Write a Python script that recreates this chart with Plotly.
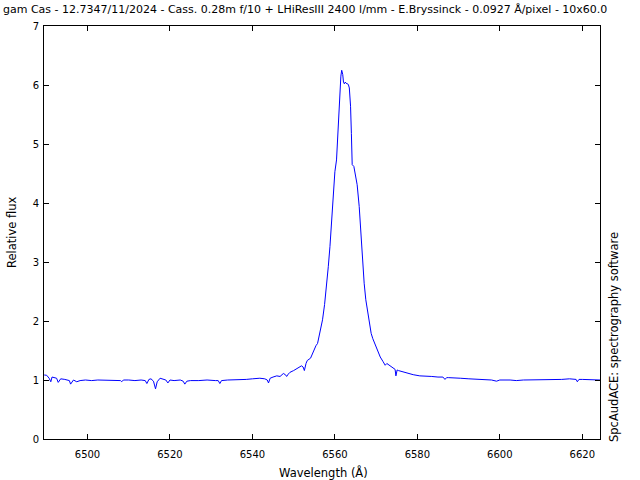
import plotly.graph_objects as go

wavelength = [
    6489.5, 6490.1, 6490.7, 6491.1, 6491.4, 6492.1, 6492.5, 6492.9, 6493.5, 6494.5,
    6495.2, 6495.6, 6495.9, 6496.6, 6497.4, 6498.2, 6499.5, 6501.0, 6502.5, 6504.0,
    6505.5, 6507.0, 6508.0, 6508.3, 6508.7, 6510.0, 6511.5, 6513.0, 6514.0, 6514.4,
    6514.9, 6515.4, 6516.0, 6516.5, 6516.9, 6517.6, 6518.3, 6519.0, 6519.5, 6520.0,
    6521.0, 6522.5, 6523.2, 6523.6, 6524.1, 6525.0, 6527.0, 6529.0, 6531.0, 6531.7,
    6532.1, 6532.5, 6534.0, 6535.5, 6537.0, 6538.5, 6540.0, 6541.8, 6543.0, 6543.6,
    6543.9, 6544.3, 6545.0, 6545.9, 6546.7, 6547.5, 6548.0, 6548.3, 6548.7, 6549.1,
    6550.0, 6551.0, 6551.9, 6552.3, 6552.6, 6553.0, 6553.3, 6554.1, 6554.7, 6555.0,
    6555.4, 6555.8, 6556.2, 6556.6, 6557.0, 6557.5, 6558.0, 6558.4, 6558.8, 6559.2,
    6559.6, 6560.0, 6560.4, 6560.8, 6561.2, 6561.45, 6561.65, 6561.9, 6562.1, 6562.3,
    6562.5, 6562.7, 6563.1, 6563.3, 6563.5, 6563.8, 6564.0, 6564.1, 6564.2, 6564.6,
    6564.9, 6565.4, 6565.9, 6566.5, 6567.1, 6567.5, 6568.0, 6568.4, 6568.8, 6569.2,
    6569.5, 6570.0, 6570.5, 6571.0, 6571.7, 6572.0, 6572.2, 6572.6, 6573.0, 6573.6,
    6574.2, 6574.6, 6574.8, 6575.1, 6575.4, 6576.4, 6577.4, 6579.0, 6580.6, 6582.0,
    6583.5, 6585.0, 6586.2, 6586.7, 6587.1, 6587.5, 6589.0, 6590.4, 6592.5, 6594.4,
    6596.5, 6598.0, 6599.2, 6600.0, 6602.5, 6604.0, 6605.7, 6608.0, 6610.6, 6613.0,
    6615.0, 6616.9, 6618.5, 6618.8, 6619.2, 6620.0, 6622.0, 6624.3,
]

flux = [
    1.085, 1.08, 1.03, 0.97, 1.05, 1.04, 1.03, 0.96, 1.02, 1.01,
    1.00, 0.99, 0.93, 1.00, 0.97, 0.99, 1.00, 0.99, 1.00, 1.00,
    0.99, 1.00, 0.99, 0.97, 1.00, 1.00, 0.99, 1.00, 0.99, 0.94,
    1.01, 1.02, 0.98, 0.85, 0.97, 1.03, 1.01, 1.00, 0.95, 1.00,
    0.99, 1.00, 0.98, 0.93, 0.98, 0.99, 0.99, 1.00, 0.99, 0.99,
    0.94, 0.99, 1.00, 1.00, 1.00, 1.01, 1.02, 1.03, 1.02, 1.00,
    0.95, 1.03, 1.05, 1.07, 1.06, 1.11, 1.09, 1.06, 1.10, 1.13,
    1.16, 1.20, 1.24, 1.22, 1.16, 1.28, 1.33, 1.37, 1.46, 1.53,
    1.58, 1.62, 1.76, 1.92, 2.02, 2.28, 2.58, 2.92, 3.26, 3.72,
    4.17, 4.53, 4.73, 5.30, 5.86, 6.15, 6.25, 6.18, 6.04, 6.02,
    6.05, 6.03, 6.02, 6.00, 5.95, 5.64, 5.18, 4.72, 4.65, 4.62,
    4.48, 4.31, 3.94, 3.26, 2.64, 2.36, 2.13, 1.93, 1.79, 1.70,
    1.65, 1.56, 1.46, 1.39, 1.31, 1.28, 1.25, 1.28, 1.26, 1.23,
    1.20, 1.18, 1.07, 1.17, 1.16, 1.14, 1.12, 1.09, 1.07, 1.07,
    1.06, 1.05, 1.05, 1.01, 1.04, 1.04, 1.04, 1.03, 1.02, 1.01,
    1.01, 1.00, 0.98, 1.00, 1.00, 0.99, 1.00, 1.00, 1.00, 1.00,
    1.01, 1.02, 1.01, 0.97, 1.01, 1.01, 1.00, 1.00,
]

x_ticks = [6500, 6520, 6540, 6560, 6580, 6600, 6620]
y_ticks = [0, 1, 2, 3, 4, 5, 6, 7]

title_text = ("gam Cas - 12.7347/11/2024 - Cass. 0.28m f/10 + LHiResIII 2400 l/mm"
              " - E.Bryssinck - 0.0927 Å/pixel - 10x60.0")
side_text = "SpcAudACE: spectrography software"
x_title = "Wavelength (Å)"
y_title = "Relative flux"

FONT = "DejaVu Sans"
W, H = 640, 480
ML, MR, MT, MB = 44, 40, 26, 41
PW = W - ML - MR
PH = H - MT - MB

fig = go.Figure()
fig.add_trace(go.Scatter(x=wavelength, y=flux, mode="lines",
                         line=dict(color="#0000ff", width=1), showlegend=False))

axis_common = dict(showgrid=False, zeroline=False, showline=True, linecolor="black",
                   linewidth=1, mirror="ticks", ticks="inside", ticklen=5,
                   tickcolor="black", tickwidth=1, automargin=False,
                   tickfont=dict(family=FONT, size=10, color="black"))

fig.update_xaxes(range=[6489.45, 6624.3], tickvals=x_ticks, ticklabelstandoff=6,
                 **axis_common)
fig.update_yaxes(range=[0, 7], tickvals=y_ticks, ticklabelstandoff=2, **axis_common)

txt_font = dict(family=FONT, size=11.5, color="black")
fig.add_annotation(text=title_text, xref="paper", yref="paper",
                   x=-(ML - 1) / PW, y=1 + (MT - 9) / PH, xanchor="left", yanchor="middle",
                   showarrow=False, font=dict(family=FONT, size=11, color="black"))
fig.add_annotation(text=x_title, xref="paper", yref="paper",
                   x=(323 - ML) / PW, y=-(472 - (H - MB)) / PH, xanchor="center",
                   yanchor="middle", showarrow=False, font=txt_font)
fig.add_annotation(text=y_title, xref="paper", yref="paper",
                   x=-(ML - 12) / PW, y=((H - MB) - 232) / PH, xanchor="center",
                   yanchor="middle", textangle=-90, showarrow=False, font=txt_font)
fig.add_annotation(text=side_text, xref="paper", yref="paper",
                   x=1 + 14 / PW, y=-5 / PH, xanchor="center",
                   yanchor="bottom", textangle=-90, showarrow=False, font=txt_font)

fig.update_layout(width=W, height=H, margin=dict(l=ML, r=MR, t=MT, b=MB),
                  plot_bgcolor="white", paper_bgcolor="white",
                  font=dict(family=FONT, size=10, color="black"))

fig.write_html("out.html", config={"displayModeBar": False},
               post_script="document.body.style.margin='0';")
